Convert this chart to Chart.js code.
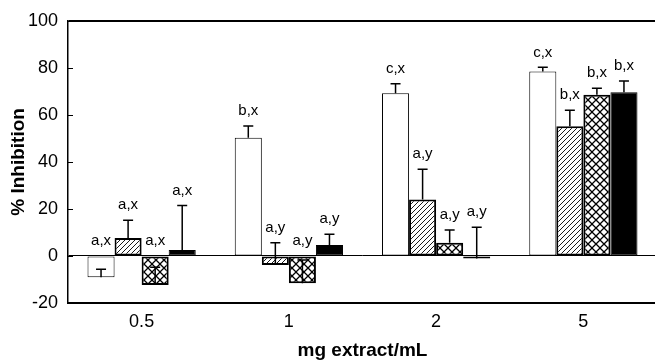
<!DOCTYPE html>
<html><head><meta charset="utf-8">
<script src="https://cdn.jsdelivr.net/npm/chart.js@4"></script>
<style>html,body{margin:0;padding:0;overflow:hidden;background:#fff}#wrap{width:657px;height:363px}</style>
</head><body><div id="wrap"><canvas id="c" width="657" height="363"></canvas></div>
<script>
const categories = ['0.5', '1', '2', '5'];
const yTicks = [-20, 0, 20, 40, 60, 80, 100];
const valuesA = [-9.0, 50.3, 69.2, 78.4];
const errorsA = [3.4, 5.0, 4.0, 1.8];
const lettersA = ['a,x', 'b,x', 'c,x', 'c,x'];
const valuesB = [7.6, -3.8, 24.0, 55.2];
const errorsB = [7.6, 9.4, 12.9, 6.8];
const lettersB = ['a,x', 'a,y', 'a,y', 'b,x'];
const valuesC = [-12.3, -11.6, 5.6, 68.6];
const errorsC = [7.5, 9.9, 5.4, 2.7];
const lettersC = ['a,x', 'a,y', 'a,y', 'b,x'];
const valuesD = [2.5, 4.7, -1.1, 69.6];
const errorsD = [19.0, 4.5, 13.3, 4.8];
const lettersD = ['a,x', 'a,y', 'a,y', 'b,x'];

const FAM = '"Liberation Sans", Arial, sans-serif';

function hatchPattern() {
  const s = 5, c = document.createElement('canvas'); c.width = s; c.height = s;
  const g = c.getContext('2d');
  g.fillStyle = '#fff'; g.fillRect(0, 0, s, s);
  g.strokeStyle = '#000'; g.lineWidth = 0.9;
  g.beginPath();
  g.moveTo(-1, s + 1); g.lineTo(s + 1, -1);
  g.moveTo(-1, 1); g.lineTo(1, -1);
  g.moveTo(s - 1, s + 1); g.lineTo(s + 1, s - 1);
  g.stroke();
  return g.createPattern(c, 'repeat');
}
function crossPattern() {
  const s = 8, c = document.createElement('canvas'); c.width = s; c.height = s;
  const g = c.getContext('2d');
  g.fillStyle = '#fff'; g.fillRect(0, 0, s, s);
  g.strokeStyle = '#000'; g.lineWidth = 1.3;
  g.beginPath();
  g.moveTo(-1, -1); g.lineTo(s + 1, s + 1);
  g.moveTo(s + 1, -1); g.lineTo(-1, s + 1);
  g.stroke();
  return g.createPattern(c, 'repeat');
}

const annot = {
  id: 'annot',
  afterDatasetsDraw(chart) {
    const ctx = chart.ctx, y = chart.scales.y;
    chart.data.datasets.forEach((ds, di) => {
      const meta = chart.getDatasetMeta(di);
      meta.data.forEach((bar, i) => {
        const v = ds.data[i], e = ds.errors[i];
        const x = bar.x, y0 = y.getPixelForValue(v), y1 = y.getPixelForValue(v + e);
        ctx.save();
        ctx.strokeStyle = '#000'; ctx.lineWidth = 1.5;
        ctx.beginPath();
        ctx.moveTo(x, y0); ctx.lineTo(x, y1);
        ctx.moveTo(x - 5, y1); ctx.lineTo(x + 5, y1);
        ctx.stroke();
        const ly = y.getPixelForValue(Math.max(v + e, 0)) - 15;
        ctx.fillStyle = '#000';
        ctx.font = '15px ' + FAM;
        ctx.textAlign = 'center'; ctx.textBaseline = 'middle';
        ctx.fillText(ds.letters[i], x, ly);
        ctx.restore();
      });
    });
    const xl = chart.chartArea.left;
    ctx.save(); ctx.strokeStyle = '#000'; ctx.lineWidth = 1;
    y.ticks.forEach(t => {
      const py = Math.round(y.getPixelForValue(t.value)) + 0.5;
      ctx.beginPath(); ctx.moveTo(xl, py); ctx.lineTo(xl + 5, py); ctx.stroke();
    });
    ctx.restore();
  }
};

new Chart(document.getElementById('c'), {
  type: 'bar',
  data: {
    labels: categories,
    datasets: [
      { data: valuesA, errors: errorsA, letters: lettersA, backgroundColor: '#fff', borderColor: '#000', borderWidth: 1, borderSkipped: false },
      { data: valuesB, errors: errorsB, letters: lettersB, backgroundColor: hatchPattern(), borderColor: '#000', borderWidth: 2, borderSkipped: false },
      { data: valuesC, errors: errorsC, letters: lettersC, backgroundColor: crossPattern(), borderColor: '#000', borderWidth: 2, borderSkipped: false },
      { data: valuesD, errors: errorsD, letters: lettersD, backgroundColor: '#000', borderColor: '#000', borderWidth: 1, borderSkipped: false }
    ]
  },
  options: {
    responsive: false,
    animation: false,
    devicePixelRatio: 1,
    layout: { padding: { top: 20, right: 0, bottom: 0, left: 0 } },
    plugins: { legend: { display: false }, tooltip: { enabled: false } },
    datasets: { bar: { categoryPercentage: 0.735, barPercentage: 1 } },
    scales: {
      x: {
        ticks: { color: '#000', font: { size: 18, family: FAM }, padding: 8 },
        grid: { display: false, drawTicks: false },
        border: { color: '#000', width: 2 },
        title: { display: true, text: 'mg extract/mL', color: '#000', font: { size: 19, weight: 'bold', family: FAM }, padding: { top: 0, bottom: 1 } },
        afterFit: s => { s.height = 60; }
      },
      y: {
        min: -20, max: 100,
        afterBuildTicks: s => { s.ticks = yTicks.map(v => ({ value: v })); },
        ticks: { color: '#000', font: { size: 18, family: FAM }, padding: 10 },
        grid: {
          drawTicks: false,
          color: c => (c.tick && (c.tick.value === 0 || c.tick.value === 100)) ? '#000' : 'rgba(0,0,0,0)',
          lineWidth: c => (c.tick && c.tick.value === 100) ? 2 : 1
        },
        border: { color: '#000', width: 1.5 },
        title: { display: true, text: '% Inhibition', color: '#000', font: { size: 19, weight: 'bold', family: FAM }, padding: { top: 7, bottom: 0 } },
        afterFit: s => { s.width = 68; }
      }
    }
  },
  plugins: [annot]
});
</script>
</body></html>
